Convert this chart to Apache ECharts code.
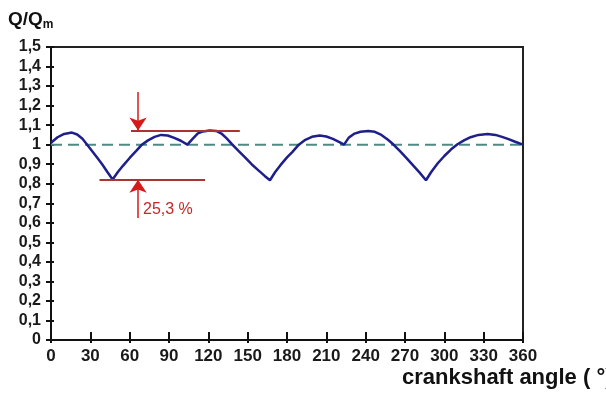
<!DOCTYPE html>
<html>
<head>
<meta charset="utf-8">
<script src="https://cdn.jsdelivr.net/npm/echarts@6/dist/echarts.min.js"></script>
<style>
  html, body { margin: 0; padding: 0; background: #fff; }
  #main { width: 606px; height: 394px; }
</style>
</head>
<body>
<div id="main"></div>
<script>
// crank angle (deg) and Q/Qm
var angleDeg = [0, 5, 10, 16, 20, 24, 27, 31, 35, 39, 43, 47,
    51, 55, 60, 65, 69, 74, 79, 84, 89, 94, 99, 104,
    108, 112, 116, 121, 126, 130, 134, 138, 143, 148, 153, 158, 163, 167,
    171, 175, 180, 184, 189, 194, 199, 205, 210, 215, 220, 223.5,
    227, 231, 236, 242, 247, 252, 257, 261, 266, 271, 276, 281, 286,
    290, 295, 300, 305, 310, 315, 320, 326, 333, 339, 344, 349, 354, 360];
var flowRatio = [1.01, 1.038, 1.055, 1.062, 1.052, 1.03, 1.005, 0.97, 0.935, 0.9, 0.86, 0.822,
    0.86, 0.893, 0.932, 0.968, 0.998, 1.022, 1.04, 1.05, 1.047, 1.035, 1.02, 1.0,
    1.03, 1.058, 1.068, 1.072, 1.07, 1.057, 1.032, 1.003, 0.968, 0.935, 0.9, 0.87, 0.84, 0.818,
    0.86, 0.895, 0.935, 0.962, 1.0, 1.025, 1.04, 1.047, 1.042, 1.03, 1.013, 1.0,
    1.035, 1.055, 1.066, 1.07, 1.066, 1.05, 1.025, 1.002, 0.968, 0.932, 0.895, 0.858, 0.818,
    0.86, 0.905, 0.942, 0.975, 1.002, 1.022, 1.038, 1.05, 1.055, 1.05, 1.04, 1.028, 1.015, 1.0];
var meanLevel = 1;
var xTicks = [0, 30, 60, 90, 120, 150, 180, 210, 240, 270, 300, 330, 360];
var yTickLabels = ['0', '0,1', '0,2', '0,3', '0,4', '0,5', '0,6', '0,7', '0,8', '0,9',
    '1', '1,1', '1,2', '1,3', '1,4', '1,5'];
// annotation: max / min band and arrows
var bandTop = 1.073, bandBottom = 0.82;
var topLineFrom = 61, topLineTo = 144;
var bottomLineFrom = 37, bottomLineTo = 117.5;
var arrowAngle = 66.4;
var arrowTopStart = 1.27, arrowBottomEnd = 0.625;
var pulsationText = '25,3 %';

var curve = [];
for (var i = 0; i < angleDeg.length; i++) curve.push([angleDeg[i], flowRatio[i]]);

var font = 'Liberation Sans, Arial, sans-serif';
var red = '#a83434', arrowRed = '#d41a1a';

var myChart = echarts.init(document.getElementById('main'));
var option = {
    animation: false,
    backgroundColor: '#fff',
    grid: { left: 51, right: 83, top: 47, bottom: 54, show: true, borderColor: '#222', borderWidth: 2 },
    xAxis: [{
        type: 'value', min: 0, max: 360, interval: 30,
        axisLine: { lineStyle: { color: '#111', width: 2 } },
        axisTick: { inside: false, length: 3, lineStyle: { color: '#111', width: 2 } },
        axisLabel: { color: '#1a1a1a', fontFamily: font, fontWeight: 'bold', fontSize: 17, margin: 8,
            formatter: function (v) { return xTicks.indexOf(v) >= 0 ? String(v) : ''; } },
        splitLine: { show: false }
    }, {
        type: 'value', min: 0, max: 360, interval: 30, position: 'bottom',
        axisLine: { show: false },
        axisTick: { inside: true, length: 8, lineStyle: { color: '#111', width: 2 } },
        axisLabel: { show: false }, splitLine: { show: false }
    }],
    yAxis: [{
        type: 'value', min: 0, max: 1.5, interval: 0.1,
        axisLine: { lineStyle: { color: '#111', width: 2 } },
        axisTick: { inside: false, length: 5, lineStyle: { color: '#111', width: 2 } },
        axisLabel: { color: '#1a1a1a', fontFamily: font, fontWeight: 'bold', fontSize: 16, margin: 10,
            formatter: function (v) { return yTickLabels[Math.round(v * 10)]; } },
        splitLine: { show: false }
    }, {
        type: 'value', min: 0, max: 1.5, interval: 0.1, position: 'left',
        axisLine: { show: false },
        axisTick: { inside: true, length: 3, lineStyle: { color: '#111', width: 2 } },
        axisLabel: { show: false }, splitLine: { show: false }
    }],
    series: [{
        name: 'mean', type: 'line', z: 1, symbol: 'none',
        data: [[0, meanLevel], [360, meanLevel]],
        lineStyle: { color: '#4e8a82', width: 2, type: [11, 6] }
    }, {
        name: 'Q/Qm', type: 'line', z: 3, symbol: 'none',
        data: curve,
        lineStyle: { color: '#1e1e8c', width: 2.5 },
        markLine: {
            silent: true, animation: false,
            label: { show: false },
            data: [
                [{ coord: [topLineFrom, bandTop], symbol: 'none', lineStyle: { color: red, width: 2, type: 'solid' } },
                 { coord: [topLineTo, bandTop], symbol: 'none' }],
                [{ coord: [bottomLineFrom, bandBottom], symbol: 'none', lineStyle: { color: red, width: 2, type: 'solid' } },
                 { coord: [bottomLineTo, bandBottom], symbol: 'none' }],
                [{ coord: [arrowAngle, arrowTopStart], symbol: 'none', lineStyle: { color: arrowRed, width: 1.5, type: 'solid' } },
                 { coord: [arrowAngle, bandTop], symbol: 'arrow', symbolSize: [13, 13] }],
                [{ coord: [arrowAngle, arrowBottomEnd], symbol: 'none', lineStyle: { color: arrowRed, width: 1.5, type: 'solid' } },
                 { coord: [arrowAngle, bandBottom], symbol: 'arrow', symbolSize: [13, 13] }]
            ]
        }
    }],
    graphic: [{
        type: 'text', left: 8, top: 10,
        style: {
            text: '{a|Q/Q}{b|m}',
            rich: {
                a: { fontFamily: font, fontWeight: 'bold', fontSize: 19, fill: '#111' },
                b: { fontFamily: font, fontWeight: 'bold', fontSize: 12, fill: '#111', padding: [10, 0, 0, 0] }
            }
        }
    }, {
        type: 'text', left: 143, top: 202,
        style: { text: pulsationText, fontFamily: font, fontSize: 16, fill: '#c62828' }
    }, {
        type: 'text', left: 402, top: 367,
        style: { text: 'crankshaft angle ( °)', fontFamily: font, fontWeight: 'bold', fontSize: 22, fill: '#111' }
    }]
};
myChart.setOption(option);
</script>
</body>
</html>
